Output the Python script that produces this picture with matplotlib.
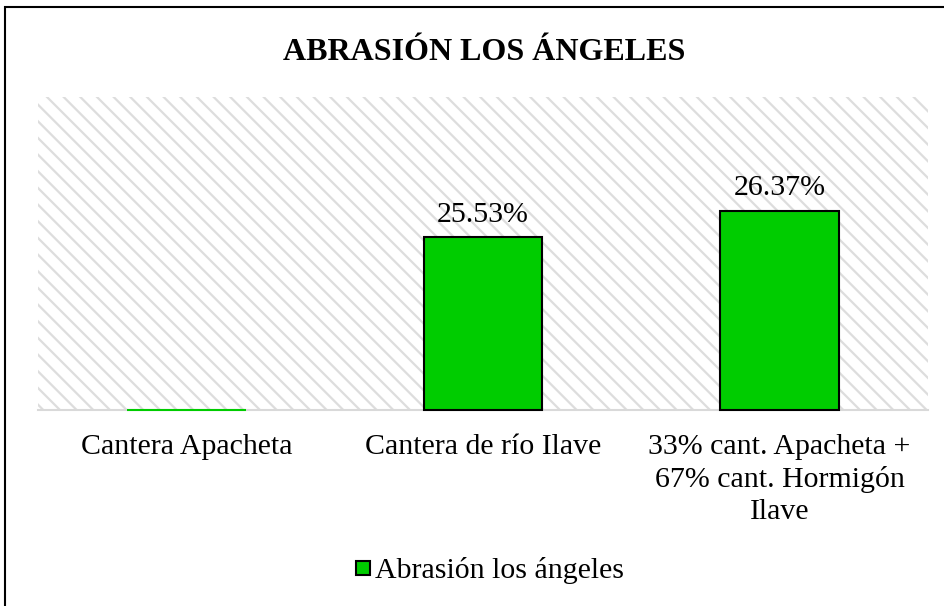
import matplotlib
matplotlib.use('Agg')
import matplotlib.pyplot as plt
from matplotlib.patches import Rectangle
from matplotlib.lines import Line2D

# datos del gráfico
categorias = ["Cantera Apacheta", "Cantera de río Ilave",
              "33% cant. Apacheta +\n67% cant. Hormigón\nIlave"]
abrasion = [0.0, 25.53, 26.37]
etiquetas = ["", "25.53%", "26.37%"]
titulo = "ABRASIÓN LOS ÁNGELES"
serie = "Abrasión los ángeles"
y_min, y_max = 20, 30

verde = "#00CC00"
gris = "#D9D9D9"

plt.rcParams["font.family"] = ["Liberation Serif", "DejaVu Serif"]
plt.rcParams["hatch.linewidth"] = 1.6
plt.rcParams["hatch.color"] = "#DDDDDD"

fig = plt.figure(figsize=(9.45, 6.06), dpi=100)
ax = fig.add_axes([38 / 945, 1 - 410 / 606, (928 - 38) / 945, (410 - 97) / 606])

# fondo rayado del área de trazado
ax.add_patch(Rectangle((0, 0), 1, 1, transform=ax.transAxes, facecolor="white",
                       edgecolor="#DDDDDD", hatch="\\\\", lw=0, zorder=0))

x = list(range(len(categorias)))
alturas = [max(v - y_min, 0) for v in abrasion]
bordes = ["black" if h > 0 else verde for h in alturas]
barras = ax.bar(x, alturas, bottom=y_min, width=0.4, color=verde,
                edgecolor=bordes, linewidth=1.5, zorder=3, clip_on=False)

for xi, v, t in zip(x, abrasion, etiquetas):
    if t:
        ax.text(xi, v + 0.3, t, ha="center", va="bottom", fontsize=21.5)

ax.set_xlim(-0.5, len(categorias) - 0.5)
ax.set_ylim(y_min, y_max)
ax.set_xticks(x)
ax.set_xticklabels(categorias, fontsize=21.5, linespacing=1.3)
ax.tick_params(axis="x", length=0, pad=17)
ax.set_yticks([])
for s in ["top", "left", "right"]:
    ax.spines[s].set_visible(False)
ax.spines["bottom"].set_color(gris)
ax.spines["bottom"].set_linewidth(1.5)
ax.spines["bottom"].set_zorder(2)

fig.text(484 / 945, 1 - 52 / 606, titulo, ha="center", va="center",
         fontsize=23, fontweight="bold")

handle = Line2D([], [], marker="s", linestyle="none", markersize=10,
                markerfacecolor=verde, markeredgecolor="black", markeredgewidth=1.5)
fig.legend([handle], [serie], loc="center", bbox_to_anchor=(488 / 945, 1 - 571 / 606),
           frameon=False, fontsize=21.5, handletextpad=0.0, handlelength=0.8)

# borde del gráfico
fig.patches.append(Rectangle((5 / 945, -0.05), 1.1, 1 - 7 / 606 + 0.05,
                             transform=fig.transFigure, fill=False,
                             edgecolor="black", linewidth=1.5))

fig.savefig("out.png", dpi=100)
